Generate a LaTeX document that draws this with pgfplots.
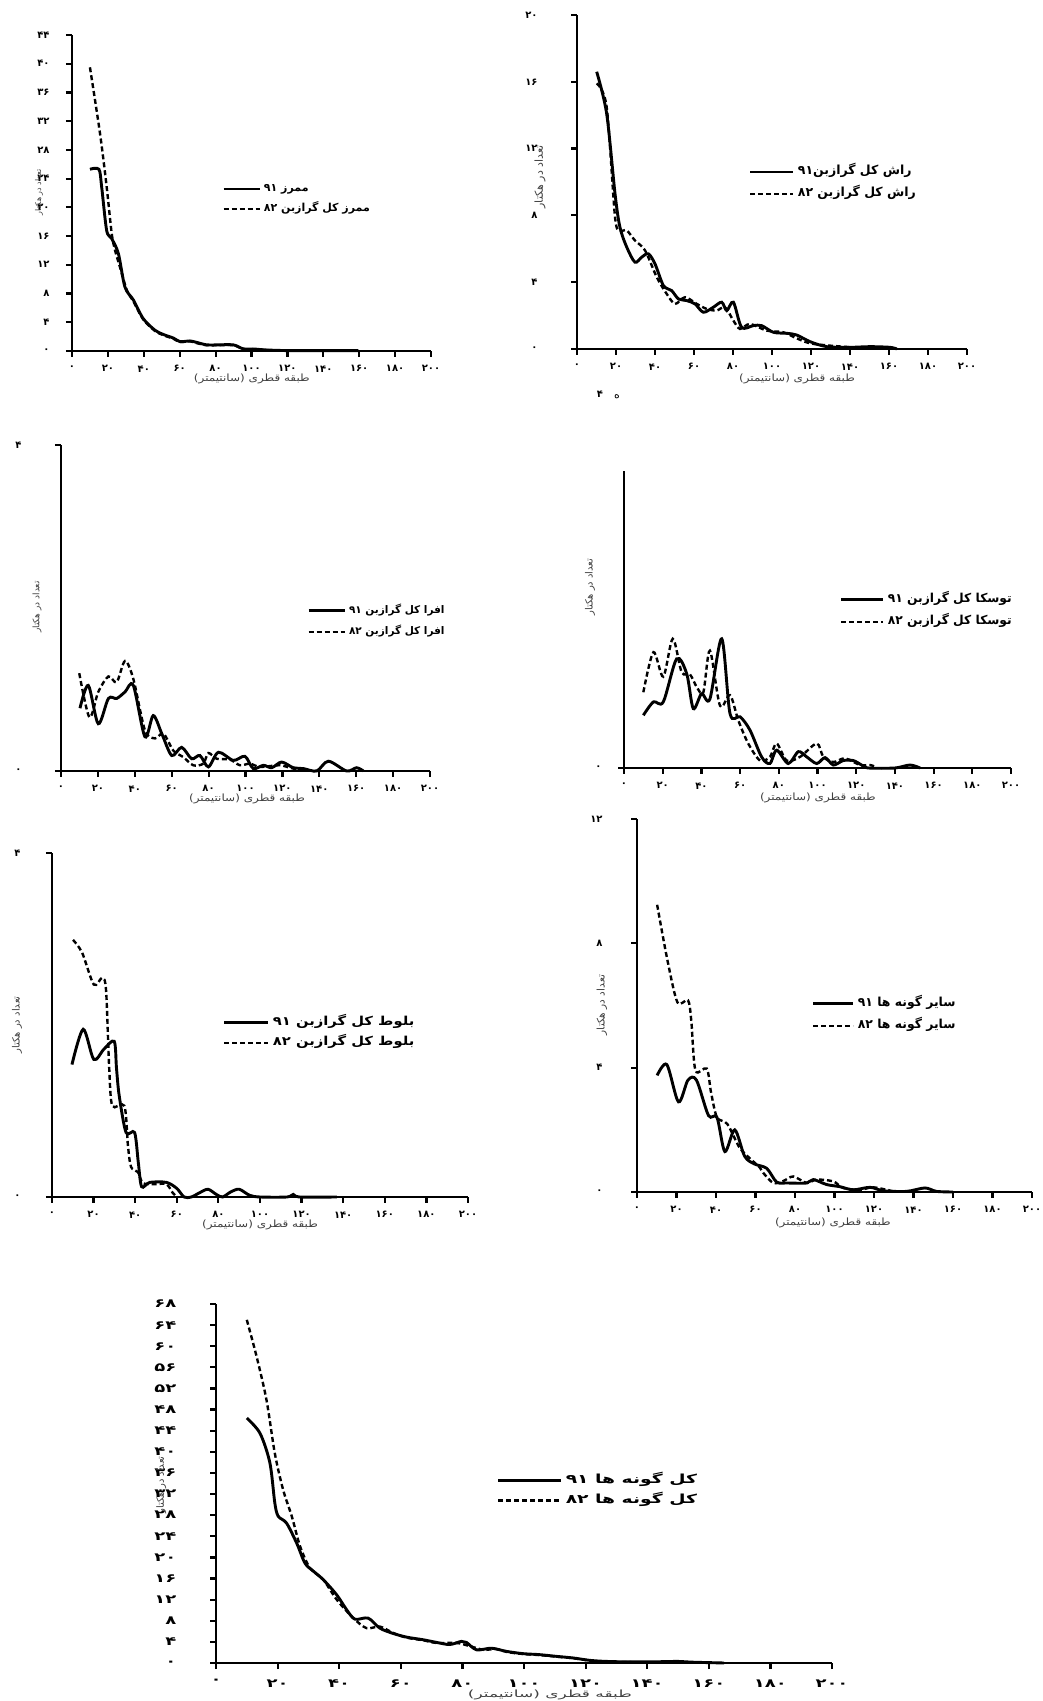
\documentclass[border=0pt]{standalone}
\usepackage{fontspec}
\usepackage{pgfplots}
\pgfplotsset{compat=1.18}
\TeXXeTstate=1
\newfontfamily\fa[Script=Arabic]{DejaVu Sans}
\newfontfamily\faw[Script=Arabic, FakeStretch=1.2]{DejaVu Sans}
\newfontfamily\fawide[Script=Arabic, FakeStretch=1.5]{DejaVu Sans}
\newfontfamily\faxw[Script=Arabic, FakeStretch=1.7]{DejaVu Sans}
\newcommand{\rtl}[1]{\beginR #1\endR}
\newcommand{\tickfont}{\fa\bfseries\fontsize{10}{12}\selectfont}
\newcommand{\tickfontL}{\fawide\bfseries\fontsize{12}{14}\selectfont}
\newcommand{\labfont}{\faw\fontsize{10}{12}\selectfont}
\pgfplotsset{
  base/.style={
    scale only axis,
    axis lines=left,
    axis line style={-, line width=2.4pt},
    xmin=0, xmax=200, ymin=0,
    xtick={0,20,...,200},
    xticklabels={۰,۲۰,۴۰,۶۰,۸۰,۱۰۰,۱۲۰,۱۴۰,۱۶۰,۱۸۰,۲۰۰},
    tick align=outside,
    major tick length=6pt,
    every tick/.style={black, line width=2.2pt},
    tick label style={font=\tickfont},
    yticklabel style={xshift=-13pt},
    xticklabel style={yshift=-5pt},
    clip=false,
    xlabel={\rtl{طبقه قطری (سانتیمتر)}},
    ylabel={\rtl{تعداد در هکتار}},
    xlabel style={font=\labfont, text=black!75, anchor=center},
    ylabel style={font=\fa\fontsize{9}{10}\selectfont, text=black!75, anchor=center},
    legend style={draw=none, fill=none, inner sep=0pt, outer sep=0pt, anchor=west,
      column sep=2pt,
      nodes={inner sep=1pt, text height=7pt, text depth=2pt}},
    legend cell align=left,
  },
  s91/.style={black, line width=2.9pt, smooth, tension=0.5},
  s82/.style={black, line width=2.4pt, dash pattern=on 5pt off 3pt, smooth, tension=0.5},
}
\begin{document}
\begin{tikzpicture}
\useasboundingbox (0,0) rectangle (1043pt,1701pt);
% ---------- P1 ----------
\begin{axis}[base, at={(72pt,1350pt)}, anchor=south west, width=359pt, height=316pt, ymax=44,
  ytick={0,4,...,44}, yticklabels={۰,۴,۸,۱۲,۱۶,۲۰,۲۴,۲۸,۳۲,۳۶,۴۰,۴۴},
  xlabel style={at={(axis description cs:0.501,-0.088)}},
  ylabel style={at={(axis description cs:-0.092,0.503)}, font=\fa\fontsize{8}{10}\selectfont},
  legend style={at={(0.418,0.481)}, row sep=9pt, font=\fa\bfseries\fontsize{11}{12}\selectfont},
  legend image code/.code={\draw[#1] (0pt,0pt) -- (36pt,0pt);}]
\addplot[s91] coordinates {(10,25.3)(15,25.3)(16.5,22.9)(19.3,16.8)(22,15.7)(25.8,13.6)(29.5,8.9)(34.2,7.1)(39.7,4.5)(46.2,2.9)(50.9,2.3)(56.5,1.8)(60.2,1.3)(65.7,1.4)(69.4,1.2)(75,0.85)(80.6,0.85)(89.9,0.85)(95.4,0.3)(101,0.28)(108.5,0.14)(121,0.05)(138,0.05)(159.5,0.05)};
\addlegendentry{\rtl{ممرز ۹۱}}
\addplot[s82] coordinates {(10,39.5)(15.6,30.3)(19.3,22.9)(22.1,16.4)(24,14)(26.7,11.7)(30.5,8.5)(34.2,6.9)(39.7,4.4)(46.2,2.8)(50.9,2.2)(56.5,1.7)(60.2,1.25)(65.7,1.35)(69.4,1.1)(75,0.8)(80.6,0.8)(89.9,0.8)(95.4,0.28)(101,0.25)(108.5,0.12)(121,0.04)(140,0.03)};
\addlegendentry{\rtl{ممرز کل گرازبن ۸۲}}
\end{axis}
% ---------- P2 ----------
\begin{axis}[base, at={(577pt,1352pt)}, anchor=south west, width=390pt, height=334pt, ymax=20,
  ytick={0,4,...,20}, yticklabels={۰,۴,۸,۱۲,۱۶,۲۰},
  yticklabel style={xshift=-17pt},
  xlabel style={at={(axis description cs:0.564,-0.090)}},
  ylabel style={at={(axis description cs:-0.095,0.515)}, font=\fa\fontsize{11}{12}\selectfont},
  legend style={at={(0.441,0.497)}, row sep=11pt, font=\fa\bfseries\fontsize{12.5}{13}\selectfont},
  legend image code/.code={\draw[#1] (0pt,0pt) -- (43pt,0pt);}]
\addplot[s91] coordinates {(10.1,16.6)(15.2,14.1)(19.5,9.3)(22,7.3)(25.5,6.1)(29.7,5.2)(33.2,5.5)(36.6,5.7)(40,5.1)(44.3,3.8)(48.5,3.5)(52,3.0)(56.2,2.9)(60.5,2.7)(64.8,2.2)(69.9,2.5)(74.2,2.8)(76.8,2.3)(80.2,2.8)(84.4,1.3)(90.4,1.4)(94.7,1.4)(100.7,1.0)(107.5,0.94)(112.6,0.84)(119.5,0.44)(128,0.14)(140,0.1)(150.3,0.14)(160.5,0.1)(164,0)};
\addlegendentry{\rtl{راش کل گرازبن۹۱}}
\addplot[s82] coordinates {(10.1,15.9)(15.2,14.5)(19.5,7.9)(22,7.1)(25.5,7.1)(29.7,6.5)(34.9,5.9)(40.9,4.3)(46,3.3)(50.3,2.7)(55.4,3.1)(61.4,2.7)(66.5,2.4)(71.6,2.3)(75.9,2.5)(80.2,1.7)(83.6,1.2)(88.7,1.5)(97.3,1.1)(105.8,1.0)(112.6,0.64)(119.5,0.34)(129.7,0.2)(141.7,0.1)(150,0.1)(158.8,0.04)};
\addlegendentry{\rtl{راش کل  گرازبن ۸۲}}
\end{axis}
\node[font=\fa\bfseries\fontsize{10}{10}\selectfont] at (600pt,1307pt) {۴};
\node[font=\fa\fontsize{11}{11}\selectfont] at (617pt,1304pt) {ه};
% ---------- P3 ----------
\begin{axis}[base, at={(61pt,930pt)}, anchor=south west, width=369pt, height=326pt, ymax=4,
  ytick={0,4}, yticklabels={۰,۴},
  yticklabel style={xshift=-17pt},
  xlabel style={at={(axis description cs:0.504,-0.086)}},
  ylabel style={at={(axis description cs:-0.065,0.503)}},
  legend style={at={(0.667,0.459)}, row sep=10pt, font=\fa\bfseries\fontsize{10.5}{12}\selectfont},
  legend image code/.code={\draw[#1] (0pt,0pt) -- (36pt,0pt);}]
\addplot[s91] coordinates {(10.3,0.77)(14.8,1.05)(20.2,0.58)(25.7,0.89)(30.2,0.89)(34.7,0.97)(39.2,1.05)(45.5,0.42)(50,0.68)(54.6,0.46)(60,0.19)(65.4,0.29)(70.8,0.15)(75.3,0.19)(79.9,0.05)(85.3,0.23)(93.4,0.13)(99.7,0.18)(104.2,0.03)(109.7,0.07)(114.2,0.04)(119.6,0.11)(125.9,0.04)(131.3,0.03)(138.6,0)(144.9,0.12)(154.8,0)(160.2,0.04)(163.9,0)};
\addlegendentry{\rtl{افرا کل گرازبن ۹۱}}
\addplot[s82] coordinates {(9.9,1.2)(15.4,0.66)(20.2,0.97)(25.7,1.16)(30.2,1.09)(34.7,1.35)(39.2,1.13)(45.5,0.5)(51,0.4)(55.5,0.46)(60.9,0.25)(66.3,0.17)(71.7,0.07)(77.1,0.09)(79.9,0.22)(84.4,0.15)(91.6,0.14)(97,0.07)(102.4,0.09)(107.9,0.05)(118.7,0.07)(125.9,0.03)(138.6,0)};
\addlegendentry{\rtl{افرا کل گرازبن ۸۲}}
\end{axis}
% ---------- P4 ----------
\begin{axis}[base, at={(624pt,933pt)}, anchor=south west, width=387pt, height=297pt, ymax=4,
  ytick={0}, yticklabels={۰},
  xlabel style={at={(axis description cs:0.501,-0.100)}},
  ylabel style={at={(axis description cs:-0.088,0.609)}, font=\fa\fontsize{10}{12}\selectfont},
  legend style={at={(0.558,0.529)}, row sep=11pt, font=\fa\bfseries\fontsize{12.3}{13}\selectfont},
  legend image code/.code={\draw[#1] (0pt,0pt) -- (42pt,0pt);}]
\addplot[s91] coordinates {(10,0.71)(15.2,0.89)(20.3,0.89)(27.2,1.47)(32.4,1.27)(35.8,0.8)(40.1,1.0)(44.4,0.93)(50.5,1.74)(54.8,0.73)(60,0.69)(65.1,0.51)(71.1,0.15)(75.4,0.06)(78.9,0.24)(84.9,0.06)(90.1,0.22)(94.4,0.15)(99.6,0.06)(103.9,0.14)(108.2,0.04)(113.3,0.1)(118.5,0.1)(122.8,0.04)(126.3,0)(140,0)(147.8,0.04)(153,0)};
\addlegendentry{\rtl{توسکا کل گرازبن ۹۱}}
\addplot[s82] coordinates {(10,1.02)(15.2,1.56)(20.3,1.23)(25.2,1.74)(29.8,1.29)(34.1,1.26)(37.6,1.09)(41,1.02)(44.4,1.58)(49.6,0.84)(54.8,0.98)(59.1,0.64)(64.2,0.33)(70.3,0.1)(75.4,0.15)(78.9,0.33)(84.1,0.1)(91,0.15)(99.6,0.33)(103,0.15)(108.2,0.08)(114.2,0.13)(122,0.04)(127.1,0.04)(130.6,0.01)};
\addlegendentry{\rtl{توسکا کل گرازبن ۸۲}}
\end{axis}
% ---------- P5 ----------
\begin{axis}[base, at={(52pt,504pt)}, anchor=south west, width=416pt, height=344pt, ymax=4,
  ytick={0,4}, yticklabels={۰,۴},
  yticklabel style={xshift=-9pt},
  xlabel style={at={(axis description cs:0.5,-0.082)}},
  ylabel style={at={(axis description cs:-0.084,0.5)}, font=\fa\fontsize{10}{12}\selectfont},
  legend style={at={(0.411,0.477)}, row sep=9pt, font=\faw\bfseries\fontsize{12.3}{14}\selectfont},
  legend image code/.code={\draw[#1] (0pt,0pt) -- (44pt,0pt);}]
\addplot[s91] coordinates {(9.6,1.54)(15,1.95)(20.1,1.6)(25,1.72)(29.9,1.81)(31,1.5)(32.3,1.18)(35.6,0.75)(39.7,0.75)(41.5,0.4)(43.1,0.12)(47,0.17)(55,0.17)(60,0.1)(63.5,0)(67,0)(71,0.05)(75,0.09)(79,0.03)(82,0)(86,0.06)(90,0.09)(95,0.02)(100,0)(113,0)(116,0.03)(119,0)(137,0)};
\addlegendentry{\rtl{بلوط کل گرازبن ۹۱}}
\addplot[s82] coordinates {(10.1,2.99)(14.5,2.84)(20.1,2.47)(24.2,2.55)(26,2.4)(27.5,1.5)(29,1.06)(34.8,1.06)(36.5,0.6)(38,0.35)(41.3,0.29)(43.8,0.16)(50,0.15)(55,0.15)(58,0.05)(60,0)};
\addlegendentry{\rtl{بلوط کل گرازبن ۸۲}}
\end{axis}
% ---------- P6 ----------
\begin{axis}[base, at={(637pt,509pt)}, anchor=south west, width=395pt, height=373pt, ymax=12,
  ytick={0,4,8,12}, yticklabels={۰,۴,۸,۱۲},
  yticklabel style={xshift=-12pt},
  xlabel style={at={(axis description cs:0.496,-0.084)}},
  ylabel style={at={(axis description cs:-0.089,0.501)}, font=\fa\fontsize{10.5}{12}\selectfont},
  legend style={at={(0.443,0.475)}, row sep=11pt, font=\fa\bfseries\fontsize{12.4}{13}\selectfont},
  legend image code/.code={\draw[#1] (0pt,0pt) -- (40pt,0pt);}]
\addplot[s91] coordinates {(10.2,3.75)(15.1,4.1)(21,2.9)(25.8,3.6)(30.1,3.6)(36.2,2.46)(40.5,2.4)(44.5,1.3)(49.5,2.0)(54.5,1.15)(59.5,0.9)(65.7,0.76)(70.7,0.32)(75.9,0.29)(85.9,0.29)(89.3,0.4)(96,0.24)(102.8,0.17)(109.5,0.07)(118,0.15)(124.7,0.04)(136.5,0.02)(145.8,0.13)(151.6,0.02)(160,0)};
\addlegendentry{\rtl{سایر گونه ها ۹۱}}
\addplot[s82] coordinates {(10.2,9.24)(15.4,7.46)(20.5,6.1)(25.8,6.17)(27.5,5.5)(29.6,3.91)(35.3,3.97)(37.5,3.2)(40.5,2.4)(45.7,2.19)(51.8,1.44)(56.8,1.1)(62,0.8)(64,0.61)(69,0.29)(74,0.35)(79.1,0.5)(85.9,0.29)(91,0.4)(99.4,0.34)(104.4,0.13)(112.9,0.07)(119.6,0.15)(129.8,0.02)};
\addlegendentry{\rtl{سایر گونه ها ۸۲}}
\end{axis}
% ---------- P7 ----------
\begin{axis}[base, at={(216pt,38pt)}, anchor=south west, width=616pt, height=359pt, ymax=68,
  tick label style={font=\tickfontL},
  ytick={0,4,...,68}, yticklabels={۰,۴,۸,۱۲,۱۶,۲۰,۲۴,۲۸,۳۲,۳۶,۴۰,۴۴,۴۸,۵۲,۵۶,۶۰,۶۴,۶۸},
  yticklabel style={xshift=-17pt},
  xticklabel style={yshift=-2pt},
  xlabel style={at={(axis description cs:0.542,-0.088)}, font=\faxw\fontsize{10}{11}\selectfont},
  ylabel style={at={(axis description cs:-0.089,0.496)}, font=\fa\fontsize{10}{12}\selectfont},
  legend style={at={(0.456,0.48)}, row sep=9pt, font=\fawide\bfseries\fontsize{12.5}{14}\selectfont},
  legend image code/.code={\draw[#1] (0pt,0pt) -- (63pt,0pt);}]
\addplot[s91] coordinates {(10,46.4)(14.3,43.5)(17.5,37.9)(19.1,30.3)(20.2,27.8)(22.9,26.5)(26.2,22.7)(28.9,18.9)(31.6,17.4)(34.8,15.8)(39.2,12.9)(42.4,10.1)(45.1,8.3)(49.4,8.5)(53.2,6.6)(57.5,5.6)(61.9,4.9)(67.3,4.4)(71.6,3.9)(75.9,3.5)(79.7,4.1)(81.3,3.9)(84.6,2.5)(89.5,2.8)(94.3,2.2)(99.7,1.77)(105.1,1.58)(110.5,1.26)(116,0.95)(121.4,0.5)(126.8,0.3)(135,0.2)(145,0.25)(150,0.3)(155,0.15)(165,0)};
\addlegendentry{\rtl{کل گونه ها ۹۱}}
\addplot[s82] coordinates {(10,65)(13.2,58)(16.4,49.8)(19.1,39.7)(21.8,32.8)(24.6,27.8)(27.3,22.1)(30.5,18)(34.8,15.8)(39.2,12)(44.6,8.5)(48.9,6.6)(53.2,6.9)(57.5,5.7)(61.9,4.8)(67.3,4.3)(71.6,3.8)(78.1,3.8)(82.4,3.2)(86.8,2.5)(91,2.65)(94.3,2.1)(99.7,1.7)(105.1,1.5)(110.5,1.2)(116,0.9)(121.4,0.45)(126.8,0.25)(135,0.15)};
\addlegendentry{\rtl{کل گونه ها ۸۲}}
\end{axis}
\end{tikzpicture}
\end{document}
